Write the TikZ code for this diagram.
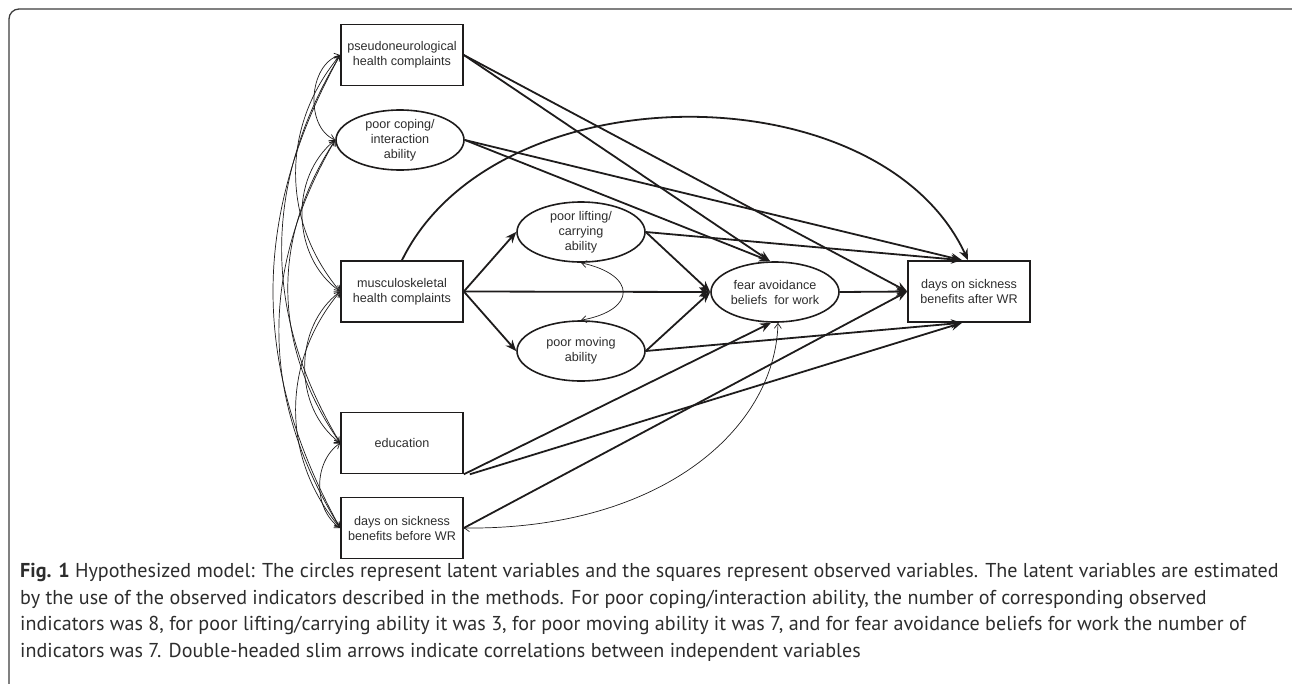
\documentclass[tikz,border=0pt]{standalone}
\usepackage{fontspec}
\setmainfont{Liberation Sans}
\newfontfamily\capfont{PT Sans}
\usetikzlibrary{arrows.meta,shapes.geometric,calc}
\definecolor{ink}{RGB}{30,28,28}
\definecolor{txt}{RGB}{45,45,45}
\definecolor{framec}{RGB}{60,60,60}
\begin{document}
\begin{tikzpicture}[x=1pt,y=1pt,
  box/.style={draw=ink,line width=1.6pt,rectangle,minimum width=122pt,minimum height=61pt,inner sep=0pt,align=center,font=\fontsize{12.6}{15}\selectfont,text=txt},
  lat/.style={draw=ink,line width=1.6pt,ellipse,minimum width=128pt,minimum height=60pt,inner sep=0pt,align=center,font=\fontsize{12.6}{15}\selectfont,text=txt},
  causal/.style={draw=ink,line width=1.8pt,-{Stealth[length=11pt,width=9pt]}},
  corr/.style={draw=ink,line width=0.7pt,{Straight Barb[length=5pt,width=7pt]}-{Straight Barb[length=5pt,width=7pt]}},
]
\useasboundingbox (0,0) rectangle (1292,-683);
\draw[framec,line width=1.3pt,rounded corners=10pt] (9,-9) rectangle (1302,-697);

\node[box] (pseudo) at (402,-55) {pseudoneurological\\health complaints};
\node[lat] (coping) at (400,-140) {poor coping/\\interaction\\ability};
\node[box] (musc) at (402,-291.5) {musculoskeletal\\health complaints};
\node[box] (edu) at (402,-443) {education};
\node[box] (before) at (402,-528) {days on sickness\\benefits before WR};
\node[lat] (lift) at (581,-232) {poor lifting/\\carrying\\ability};
\node[lat] (move) at (581,-351) {poor moving\\ability};
\node[lat] (fear) at (775,-292) {fear avoidance\\beliefs\ \ for work};
\node[box] (after) at (969,-291.5) {days on sickness\\benefits after WR};

\coordinate (fearN) at ($(fear.north)+(-5,0)$);
\coordinate (fearS) at ($(fear.south)+(-4,0)$);
\coordinate (fearS2) at ($(fear.south)+(3,0)$);
\coordinate (afterN) at ($(after.north)+(-7,0)$);
\coordinate (afterN2) at ($(after.north)+(-1,0)$);
\coordinate (afterS) at ($(after.south)+(-7,0)$);
\coordinate (eduSE) at ($(edu.south east)+(6,0)$);

% causal paths
\draw[causal] (pseudo.east) -- (fearN);
\draw[causal] (pseudo.east) -- (after.west);
\draw[causal] (coping.east) -- (fearN);
\draw[causal] (coping.east) -- (afterN);
\draw[causal] (musc.east) -- (lift.west);
\draw[causal] (musc.east) -- (fear.west);
\draw[causal] (musc.east) -- (move.west);
\draw[causal] (lift.east) -- (fear.west);
\draw[causal] (lift.east) -- (afterN);
\draw[causal] (move.east) -- (fear.west);
\draw[causal] (move.east) -- (afterS);
\draw[causal] (fear.east) -- (after.west);
\draw[causal] (edu.south east) -- (fearS);
\draw[causal] (eduSE) -- (afterS);
\draw[causal] (before.east) -- (after.west);
\draw[causal] (musc.north) .. controls (495,-70) and (880,-70) .. (afterN2);

% correlations
\draw[corr] (lift.south) .. controls (637,-275) and (637,-310) .. (move.north);
\draw[corr] (before.east) .. controls (660,-530) and (775,-430) .. (fearS2);

\draw[corr] (pseudo.west) to[bend right=70] (coping.west);
\draw[corr] (pseudo.west) to[bend right=40] (musc.west);
\draw[corr] (pseudo.west) to[bend right=31] (edu.west);
\draw[corr] (pseudo.west) to[bend right=29] (before.west);
\draw[corr] (coping.west) to[bend right=53] (musc.west);
\draw[corr] (coping.west) to[bend right=34] (edu.west);
\draw[corr] (coping.west) to[bend right=31] (before.west);
\draw[corr] (musc.west) to[bend right=53] (edu.west);
\draw[corr] (musc.west) to[bend right=40] (before.west);
\draw[corr] (edu.west) to[bend right=55] (before.west);

\node[anchor=north west,align=left,inner sep=0pt,text=txt,font=\capfont\fontsize{20.1}{26.7}\selectfont] (cap) at (20,-563)
{\textbf{Fig. 1} Hypothesized model: The circles represent latent variables and the squares represent observed variables. The latent variables are estimated\\
by the use of the observed indicators described in the methods. For poor coping/interaction ability, the number of corresponding observed\\
indicators was 8, for poor lifting/carrying ability it was 3, for poor moving ability it was 7, and for fear avoidance beliefs for work the number of\\
indicators was 7. Double-headed slim arrows indicate correlations between independent variables};
\end{tikzpicture}
\end{document}
